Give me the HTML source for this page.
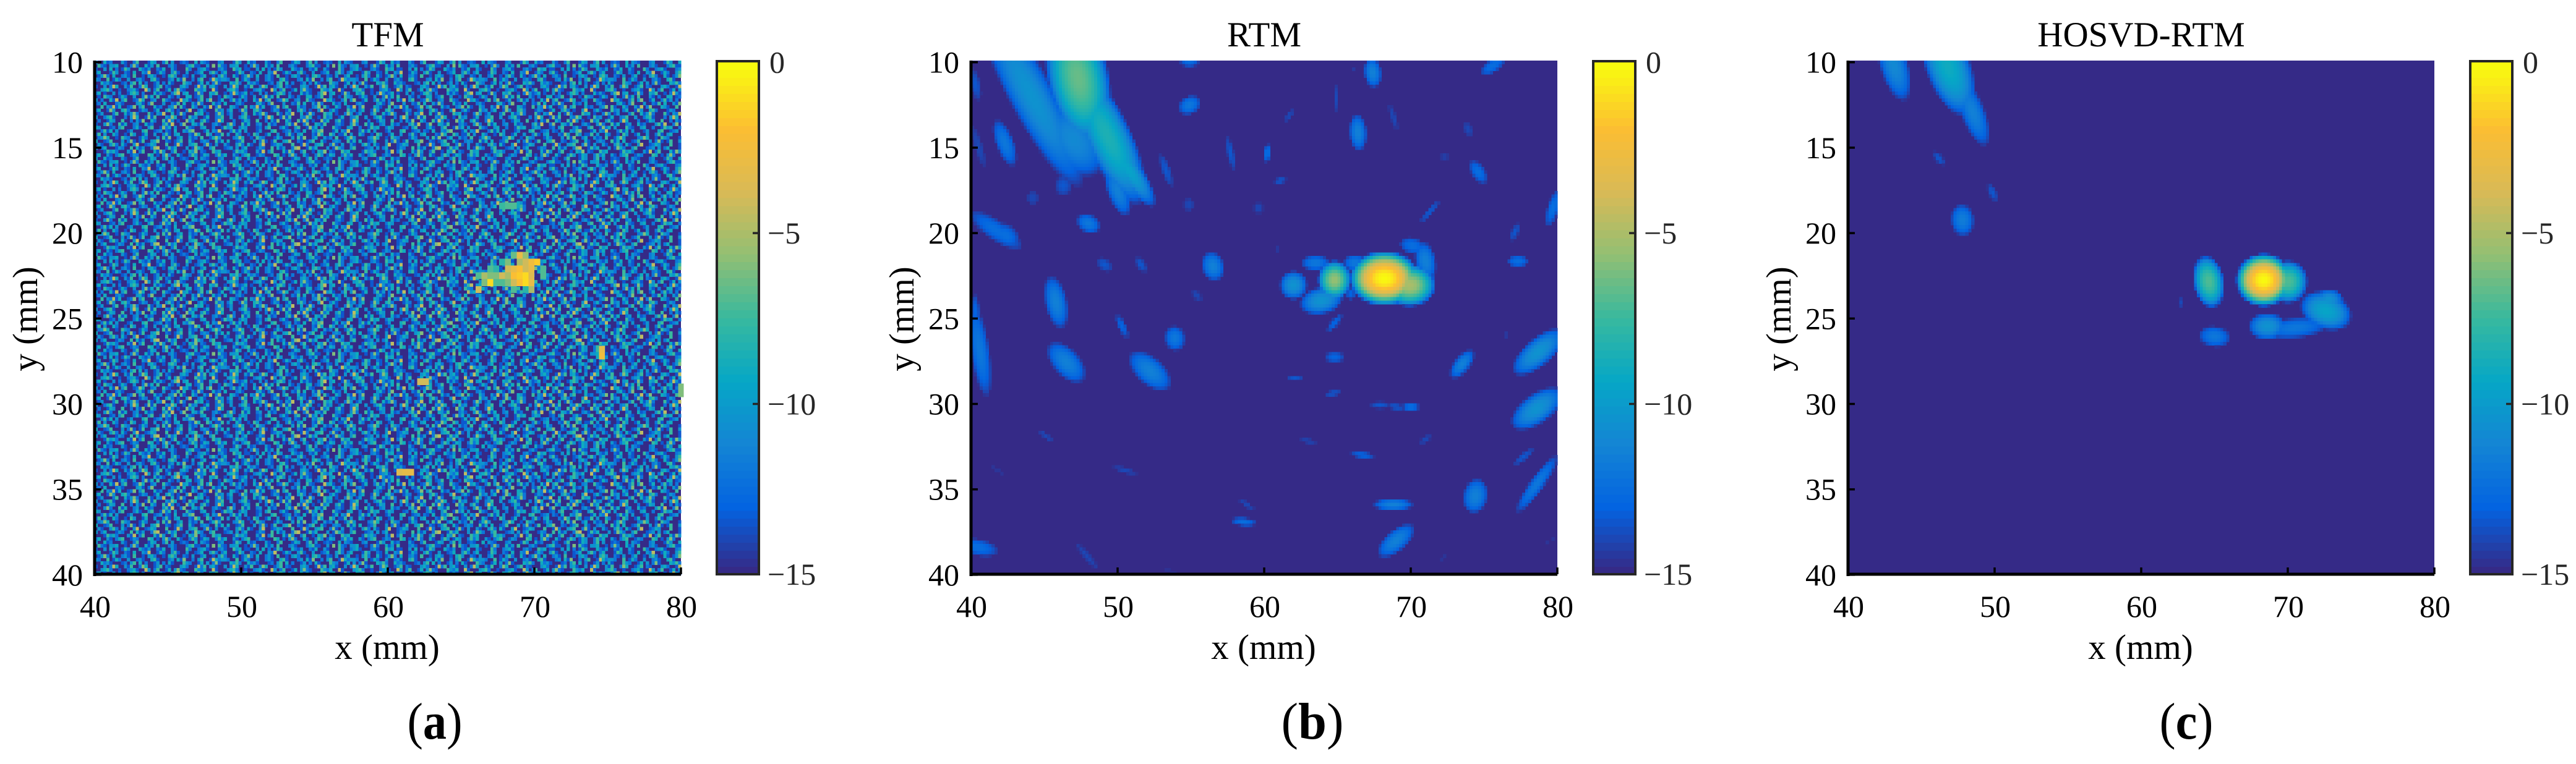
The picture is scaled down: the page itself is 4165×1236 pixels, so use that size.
<!DOCTYPE html>
<html lang="en">
<head>
<meta charset="utf-8">
<title>TFM, RTM and HOSVD-RTM images</title>
<style>
html,body{margin:0;padding:0;background:#fff;width:4165px;height:1236px;overflow:hidden}
svg{display:block}
text{font-family:"Liberation Serif","Times New Roman",serif;fill:#000}
</style>
</head>
<body>
<svg id="figure" xmlns="http://www.w3.org/2000/svg" width="4165" height="1236" viewBox="0 0 4165 1236"></svg>
<script>
const xTicks = [40, 50, 60, 70, 80];
const yTicks = [10, 15, 20, 25, 30, 35, 40];
const colorbarTicks = [0, -5, -10, -15];
const panelTitles = ['TFM', 'RTM', 'HOSVD-RTM'];
const panelLetters = ['a', 'b', 'c'];

// TFM speckle sample, dB = -15 + 1.5 * digit; rows wrap across the 200 x 150 grid
const tfmSpeckle = [
"3004120003100250001430025030012100403210002300015",
"05210334001026200413050002310002451100306",
"1003040201530004213002140031000520023410002310053401",
"2400015300210400327001420035100300124003520",
"0136204002310500103420010453002103002400103520041",
"32005014200300231004510002304160020350017423",
"00423100012035040200130204100053200140302610004352",
"10030274003150026400135021000342001725034",
"0034520010023410073025001403621000532400710",
"24010030200145302000413100257034001620043500102731",
"01053200142003002614050003102004401250030",
"3020041703500126400230052100073410025036001400251",
"12040002310000341026000300215040031620004",
"0050327140012603500041200236051004200317026000431",
"240016300452000132001400352010037002410005230",
"01300025004136200051032700401620005340100263",
"3002451000203740016150003264001052300140023500",
"0200143005002031600420051730100624003510027400",
"100362005140023004120003517002600431500023",
"43000120350002410035001624030005210034002001534002",
"00251403000130004500123021040032560001403270",
"150300420010530014003002510340002164005301",
"0236400105320001420003051600240031205001463000",
"400125000302610150034600210135004100232005140",
"0310035204100370012430005001720034500261030",
"302400013200504130026700152400030164200350001230",
"00015342000317025000416300250010436021005340",
"2400310245001320005401036200410025301430025"
];
// Individually readable hot cells: x mm, y mm, dB
const tfmHotCells = [
[68.4,21.9,-3],[68.8,21.9,-2],[69.2,21.9,-4],[69.6,21.9,-3],[68.4,22.3,-2],[68.8,22.3,-1.5],[69.2,22.3,-1],[69.6,22.3,-3.5],
[68.8,21.5,-5],[69.2,21.5,-4],[69.6,21.5,-2.5],[70,21.5,-1.5],[68,21.5,-6],[68,21.9,-4],[68,22.3,-5],[68,22.7,-6],
[68.4,22.7,-4],[68.8,22.7,-2],[69.2,22.7,-1],[69.6,22.7,-3],[68.8,21.1,-3],[68.4,21.1,-6.5],[69.2,21.1,-5.5],
[67.6,22.3,-4],[67.2,22.3,-6],[66.8,22.3,-6],[66.4,22.3,-5],[66.8,21.9,-7],[66.4,22.7,-6],[66.8,22.7,-1],[67.2,22.7,-7],[66,22.3,-7],[66,23.1,-4],
[70.4,21.9,-7],[70.4,22.3,-7],[67.6,21.5,-8],[67.2,21.9,-8],[67.6,22.7,-7],[68.4,23.1,-7],[69.2,23.1,-8],[69.6,23.1,-5],
[61,33.8,-3],[61.4,33.8,-3],[60.6,33.8,-3.5],[62,28.5,-4],[62.4,28.5,-4],[74.4,26.6,-3],[74.4,27,-2.5],[79.8,28.8,-6],[79.8,29.2,-6],
[68,18.2,-7],[68.4,18.2,-7],[67.6,18.2,-7.5]
];
// Echo regions: centre x mm, centre y mm, half-length mm, half-width mm, tilt deg, peak dB
const rtmBlobs = [
[44.1,12,6.4,1.48,57.6,-10.5],[47,14.6,2.6,1.7,45,-11],[47.3,11,4,2.1,75,-6.5],[49.3,14.4,4.6,1.55,60,-8.5],[50.6,16.2,3,.8,50,-9.5],
[50,17.6,1.6,.7,65,-11.5],[46.3,17.3,.6,.6,0,-13.5],[44.2,18,.45,.45,0,-14],[42.3,14.8,1.5,.6,65,-12],[40.3,11.4,1,.35,75,-13.5],[40.5,15,1.4,.3,70,-14],
[41.7,19.9,2.1,.6,30,-12.5],[42.4,20.2,1,.65,30,-12.5],[48,19.5,.85,.55,20,-12],[54.9,10,.7,.4,0,-12.5],[54.9,12.6,.8,.55,-20,-12],[54.85,18.4,.4,.4,0,-14],
[57.7,15.4,1.1,.25,75,-13.5],[53.3,16.4,1.1,.3,68,-13.5],[49.1,21.9,.6,.35,30,-13.5],[51.6,21.9,.55,.28,50,-13.5],[56.5,22,.9,.75,60,-11.5],
[45.8,24.1,1.6,.75,75,-11.5],[50.3,25.5,.8,.28,60,-13],[53.9,26.2,.75,.7,60,-12],[46.5,27.6,1.6,.85,40,-11.5],[52.2,28.1,1.7,.85,35,-11.5],
[40.6,26.9,2.8,.65,80,-12],[40.3,24.6,1,.3,85,-13],[55.4,23.7,.45,.25,40,-14],[60.9,21,.25,.25,0,-14.5],
[68.2,22.7,2.4,1.6,0,0],[69.9,23.1,1.8,1.25,0,-5],[70.1,20.8,.9,.5,10,-12.5],[71,21.7,1.2,.7,75,-11.5],[66.2,21.8,.8,.5,0,-12],[65.9,23.6,.35,.35,0,-13],
[64.8,22.8,1.15,1.15,0,-5.5],[63.9,24,1.5,.8,-10,-10.5],[63.5,21.8,1,.45,0,-12],[62,23.1,.95,.85,0,-10.5],
[64.8,25.3,.75,.25,-45,-13],[64.8,27.3,.7,.35,0,-13],[62.1,28.5,.6,.2,-5,-13.5],[71.3,18.8,1,.22,-45,-13.5],[59.6,18.6,.35,.35,0,-14],
[67.4,10.7,.9,.6,80,-11.5],[75.6,10.3,1,.4,-30,-12.5],[66.1,10.5,.2,.2,0,-14.5],[64.9,12.2,.9,.15,90,-14],[61.7,13.2,.5,.2,-50,-14],[60.2,15.4,.55,.27,-80,-12.5],
[61.1,17,.45,.2,-15,-13.5],[68.8,13.3,.9,.2,70,-14],[66.4,14.2,1.1,.6,85,-11.5],[73.9,14,.5,.3,60,-14],[72.3,15.6,.4,.15,0,-14],[74.6,16.5,.85,.45,50,-12.5],
[79.7,18.6,1.2,.4,-70,-12.5],[77.1,20,.6,.25,-60,-13.5],[77.3,21.7,.75,.35,0,-12.5],[76.5,26,.4,.15,-70,-14.5],[78.7,27,2.1,.85,-35,-10.5],[73.5,27.7,1.1,.5,-45,-11.5],
[78.6,30.3,2,.9,-30,-10.5],[70,30.2,.6,.3,0,-12.5],[67.9,30.1,.7,.22,0,-13.5],[69,30.2,.6,.2,10,-13.5],[64.7,29.4,.6,.18,-10,-13.5],[63,32.2,.6,.15,10,-14],[71,32.1,.5,.2,-30,-14],
[66.7,33,.85,.22,8,-13],[77.7,33.1,.9,.22,-35,-13.5],[78.6,34.7,2.2,.45,-50,-12],[74.4,35.4,1.05,.85,-70,-11.5],[68.8,35.9,1.4,.36,0,-11.5],[69,38,1.5,.65,-35,-11.5],
[58.8,35.9,.7,.17,30,-14],[58.6,36.9,.9,.25,5,-12.5],[50.5,33.9,.9,.18,15,-14],[45.1,31.9,.7,.17,35,-14],[41.8,33.9,.6,.1,35,-14.5],[40.5,38.4,1.4,.5,10,-12.5],
[47.9,38.9,1.2,.2,45,-14],[53.6,39.8,.7,.12,5,-14.5],[79.5,38,.4,.1,-20,-14.5],[72.2,39,.3,.1,-30,-14.5]
];
const hosvdBlobs = [
[43.1,10.2,2.3,.95,70,-11],[46.8,10.3,3.2,1.5,65,-9],[48.5,13,2.2,.8,65,-11.5],[46.2,15.7,.55,.25,45,-13.5],[49.85,17.7,.6,.27,60,-13.5],[47.8,19.3,.95,.8,80,-11.7],[62.7,24.1,.3,.15,90,-14],
[68.35,22.8,1.9,1.55,0,0],[70,22.9,1.35,1.25,0,-7],[64.6,22.9,1.55,1.05,75,-7],[68.6,25.5,1.3,.8,0,-10.5],[70.5,25.6,2.3,.6,-5,-12],[72.6,24.6,1.8,1.1,15,-9.5],[72.8,24,1,.7,0,-10.5],[65,26.1,1.1,.62,5,-12]
];

const SVG_NS = 'http://www.w3.org/2000/svg';
const fig = document.getElementById('figure');
const LOW = -15, HIGH = 0;
const STOPS = [[53,42,135],[3,99,225],[20,133,212],[6,167,198],[56,185,158],[146,191,115],[217,186,86],[252,190,50],[249,251,14]];

function parula(v) {
  const t = Math.min(1, Math.max(0, (v - LOW) / (HIGH - LOW))) * (STOPS.length - 1);
  const i = Math.min(STOPS.length - 2, Math.floor(t));
  const f = t - i;
  const c = STOPS[i].map((s, k) => Math.round(s + (STOPS[i + 1][k] - s) * f));
  return 'rgb(' + c.join(',') + ')';
}
function make(tag, parent) {
  const el = document.createElementNS(SVG_NS, tag);
  parent.appendChild(el);
  return el;
}
function setAttrs(el, attrs) {
  for (const k in attrs) el.setAttribute(k, attrs[k]);
  return el;
}
function label(parent, name, str, x, y, size, anchor) {
  const el = make('text', parent);
  setAttrs(el, {x: x, y: y, 'font-size': size, 'text-anchor': anchor});
  el.textContent = str;
  
  
  return el;
}
function line(parent, name, x1, y1, x2, y2, w, col) {
  const el = make('line', parent);
  setAttrs(el, {x1: x1, y1: y1, x2: x2, y2: y2, stroke: col, 'stroke-width': w});
  
  
  return el;
}

function drawPanel(offset, index, paint) {
  const L = 153 + offset, R = 1101 + offset, T = 98, B = 930;
  const xScale = mm => L + (mm - 40) * 23.7;
  const yScale = mm => 100.7 + (mm - 10) * 27.64;
  const vScale = db => 100.7 + (-db) * 55.28;
  const panel = make('g', fig);
  
  

  const heat = make('g', panel);
  
  
  heat.setAttribute('shape-rendering', 'crispEdges');
  const base = make('rect', heat);
  setAttrs(base, {x: L, y: T, width: R - L, height: B - T, fill: parula(LOW)});
  
  
  paint(heat, L, R, T, B, xScale, yScale);

  line(panel, 'y-axis-line', L, T, L, B + 2, 5, '#000');
  line(panel, 'x-axis-line', L - 2, B - 1, R, B - 1, 5, '#000');
  xTicks.forEach(t => {
    const x = xScale(t);
    line(panel, 'x-tick', x, B - 1, x, B - 12, 3.5, '#000');
    label(panel, 'x-tick-label', String(t), x + 1, 998, 50, 'middle');
  });
  yTicks.forEach(t => {
    const y = yScale(t);
    line(panel, 'y-tick', L, y, L + 11, y, 3.5, '#000');
    label(panel, 'y-tick-label', String(t), L - 19, y + 17, 50, 'end');
  });
  label(panel, 'chart-title', panelTitles[index], (L + R) / 2, 75, 57, 'middle');
  label(panel, 'x-axis-title', 'x (mm)', (L + R) / 2 - 1, 1066, 57, 'middle');
  const yt = label(panel, 'y-axis-title', 'y (mm)', 0, 0, 57, 'middle');
  yt.setAttribute('transform', 'translate(' + (60 + offset) + ',516) rotate(-90)');

  const cL = 1159 + offset, cW = 68, cT = 99, cB = 929;
  const bar = make('g', panel);
  
  
  bar.setAttribute('shape-rendering', 'crispEdges');
  const levels = 64;
  for (let i = 0; i < levels; i++) {
    const y0 = cB - (i + 1) * (cB - cT) / levels;
    const s = make('rect', bar);
    setAttrs(s, {x: cL, y: y0, width: cW, height: (cB - cT) / levels + 1, fill: parula(LOW + (HIGH - LOW) * i / (levels - 1))});
    
    
  }
  const frame = make('rect', panel);
  setAttrs(frame, {x: cL, y: cT, width: cW, height: cB - cT, fill: 'none', stroke: '#262626', 'stroke-width': 4});
  
  
  colorbarTicks.forEach(t => {
    const y = Math.min(vScale(t), cB);
    if (t !== 0 && t !== -15) line(panel, 'colorbar-tick', cL + cW - 10, y, cL + cW, y, 3.5, '#262626');
    const s = t === 0 ? '0' : '\u2212' + Math.abs(t);
    const lbl = label(panel, 'colorbar-tick-label', s, t === 0 ? cL + cW + 17 : cL + cW + 14, y + 17, 50, 'start');
    lbl.style.fill = '#262626';
  });
}

function paintTfm(g, L, R, T, B, xScale, yScale) {
  const nCols = 200, nRows = 150;
  const colW = (R - L) / nCols, rowH = (B - T) / nRows;
  for (let r = 0; r < nRows; r++) {
    const row = tfmSpeckle[r % tfmSpeckle.length];
    for (let c = 0; c < nCols; c++) {
      const d = +row[c % row.length];
      if (d === 0) continue;
      const el = make('rect', g);
      setAttrs(el, {x: L + c * colW, y: T + r * rowH, width: colW + .5, height: rowH + .5, fill: parula(LOW + d * 1.5)});
      
      
    }
  }
  tfmHotCells.forEach(h => {
    const el = make('rect', g);
    setAttrs(el, {x: xScale(h[0]), y: yScale(h[1]), width: xScale(.4) - xScale(0), height: yScale(.4) - yScale(0), fill: parula(h[2])});
    
    
  });
}

function blobPainter(blobs) {
  return function (g, L, R, T, B, xScale, yScale) {
    const step = 0.2;
    const prepared = blobs.map(b => ({x: b[0], y: b[1], a: b[2], b: b[3], cos: Math.cos(b[4] * Math.PI / 180), sin: Math.sin(b[4] * Math.PI / 180), p: b[5]}));
    for (let j = 0; j < 150; j++) {
      const ym = 10 + (j + .5) * step;
      for (let i = 0; i < 200; i++) {
        const xm = 40 + (i + .5) * step;
        let v = LOW;
        for (const q of prepared) {
          const dx = xm - q.x, dy = ym - q.y;
          const u = (dx * q.cos + dy * q.sin) / q.a;
          const w = (-dx * q.sin + dy * q.cos) / q.b;
          const d2 = u * u + w * w;
          if (d2 < 1) v = Math.max(v, q.p + (LOW - q.p) * (.8 * d2 + .2 * d2 * d2 * d2 * d2));
        }
        if (v <= LOW + .2) continue;
        const el = make('rect', g);
        const x0 = L + i * (R - L) / 200, y0 = T + j * (B - T) / 150;
        setAttrs(el, {x: x0, y: y0, width: (R - L) / 200 + .5, height: (B - T) / 150 + .5, fill: parula(v)});
        
        
      }
    }
  };
}

drawPanel(0, 0, paintTfm);
drawPanel(1417, 1, blobPainter(rtmBlobs));
drawPanel(2835, 2, blobPainter(hosvdBlobs));

[[703, 'a', 89], [2122, 'b', 101], [3535, 'c', 87]].forEach((p, i) => {
  const cap = make('text', fig);
  setAttrs(cap, {x: p[0], y: 1195, 'font-size': 84, 'text-anchor': 'middle', textLength: p[2], lengthAdjust: 'spacingAndGlyphs'});
  
  
  cap.appendChild(document.createTextNode('('));
  const b = make('tspan', cap);
  b.setAttribute('font-weight', 'bold');
  b.textContent = p[1];
  cap.appendChild(document.createTextNode(')'));
});
</script>
</body>
</html>
